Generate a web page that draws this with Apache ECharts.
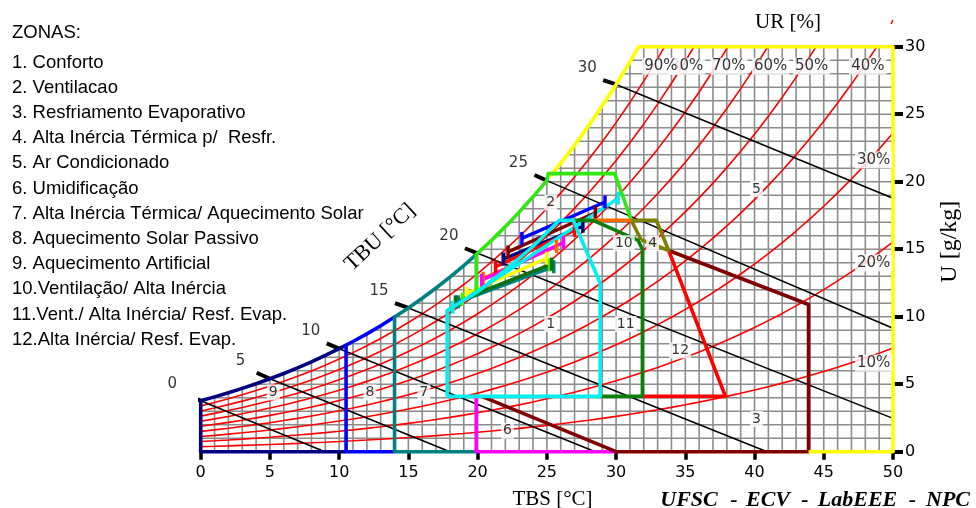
<!DOCTYPE html>
<html><head><meta charset="utf-8">
<script src="https://cdn.jsdelivr.net/npm/echarts@6/dist/echarts.min.js"></script>
<style>html,body{margin:0;padding:0;background:#fff}#c{width:976px;height:508px}</style>
</head><body><div id="c"></div>
<script>
// ---------- reference data ----------
// saturation vapour pressure (kPa) at each temperature (°C)
const satTemps = [0,1,2,3,4,5,6,7,8,9,10,11,12,13,14,15,16,17,18,19,20,21,22,23,24,25,26,27,28,29,30,31,32,33,34,35,36,37,38,39,40,41,42,43,44,45,46,47,48,49,50];
const satPressures = [0.6112,0.6571,0.7060,0.7581,0.8135,0.8725,0.9353,1.0020,1.0728,1.1481,1.2280,1.3127,1.4026,1.4978,1.5987,1.7055,1.8184,1.9380,2.0643,2.1978,2.3388,2.4877,2.6448,2.8104,2.9851,3.1692,3.3631,3.5673,3.7822,4.0083,4.2460,4.4959,4.7585,5.0343,5.3239,5.6278,5.9466,6.2810,6.6315,6.9987,7.3835,7.7863,8.2080,8.6492,9.1107,9.5932,10.0976,10.6246,11.1751,11.7499,12.3499];
const rhLevels = [10,20,30,40,50,60,70,80,90];
const rhLabelText = ['10%','20%','30%','40%','50%','60%','70%','80%','90%'];
const rhLabelT = [48.6,48.6,48.6,48.18,44.12,41.16,38.14,35.1,33.23];
const rhLabelW = [6.57,13.98,21.6,28.56,28.56,28.56,28.56,28.56,28.56];

const tbuValues = [0,5,10,15,20,25,30];
const tbuStartT = [-0.9,4.04,9.1,14.03,19.08,24.1,29.07];
const tbuStartW = [4.13,5.85,8.03,11.0,15.07,20.5,27.53];
const tbuEndT = [8.97,18.0,28.5,40.9,50,50,50];
const tbuEndW = [0,0,0,0,2.47,9.14,18.77];

// monthly min/max lines
const monthTmin = [23.2,22.2,21.85,21.3,20.4,20.3,19.2,18.9,18.6,18.4,18.2];
const monthWmin = [15.8,14.8,14.26,13.7,12.84,12.7,11.73,11.3,11.1,11.1,10.7];
const monthTmax = [29.2,28.5,27.6,27.0,25.7,26.2,25.0,25.2,25.5,25.35,30.15];
const monthWmax = [18.5,17.7,16.7,16.4,15.2,15.5,14.33,13.83,13.7,13.9,18.77];

// zone outlines ([T, U]; {sat:[T1,T2]} = follow saturation curve; {satTop:T1} = saturation up to U=30)
const zone9 = [[10.5,0],[0,0],{sat:[0,10.5]}];
const zone8 = [{sat:[14,10.5]},[10.5,0],[14,0]];
const zone7 = [{sat:[19.9,14]},[14,0],[19.9,0]];
const zone6 = [[19.9,4.1],[19.9,0],[30,0]];
const zone3 = [[20.3,4.1],[30,0],[43.9,0],[43.9,10.9],[33.8,14.9]];
const zone5 = [[25.1,20.6],{satTop:25.3},[50,30],[50,0],[43.9,0]];
const zone2 = [[19.9,11.8],{sat:[19.9,25]},[25.1,20.6],[29.9,20.6],[31.1,17.15]];
const zone12 = [[31.9,4.1],[37.9,4.1],[33.8,14.9]];
const zone4 = [[31.8,15.7],[31.1,17.15],[32.9,17.15],[33.8,14.9],[31.8,15.7]];
const zoneOrange = [[28.3,17.15],[31.1,17.15]];
const zone10 = [[26.9,17.15],[28.3,17.15],[31.6,15.65],[31.9,15.0],[31.9,4.1],[28.85,4.1]];
const zone1 = [[17.8,4.1],[17.8,10.45],[20,11.85],[22,13.45],[24,15.2],[25.9,17.15],[26.9,17.15],[28.85,12.5],[28.85,4.1],[17.8,4.1]];

const zoneLabelNames = ['1','2','3','4','5','6','7','8','9','10','11','12'];
const zoneLabelT = [25.28,25.28,40.14,32.64,40.14,22.15,16.12,12.22,5.24,30.56,30.7,34.63];
const zoneLabelW = [9.46,18.46,2.42,15.44,19.46,1.55,4.39,4.39,4.39,15.44,9.46,7.5];

const legendItems = ['1. Conforto','2. Ventilacao','3. Resfriamento Evaporativo','4. Alta Inércia Térmica p/  Resfr.','5. Ar Condicionado','6. Umidificação','7. Alta Inércia Térmica/ Aquecimento Solar','8. Aquecimento Solar Passivo','9. Aquecimento Artificial','10.Ventilação/ Alta Inércia','11.Vent./ Alta Inércia/ Resf. Evap.','12.Alta Inércia/ Resf. Evap.'];

// ---------- helpers ----------
const P_ATM = 101.325, W_MAX = 30, T_MAX = 50;
function pws(T){
  const i = Math.max(0, Math.min(satTemps.length-2, Math.floor(T)));
  const f = T - satTemps[i];
  return satPressures[i] + (satPressures[i+1]-satPressures[i])*f;
}
function wOf(p){ return 622*p/(P_ATM-p); }
function wsat(T){ return wOf(pws(T)); }
function tOfW(w){ // dry-bulb temperature at which saturation reaches w
  if (w <= wsat(0)) return 0;
  let lo = 0, hi = 50;
  for (let k=0;k<50;k++){ const m=(lo+hi)/2; if (wsat(m) < w) lo = m; else hi = m; }
  return (lo+hi)/2;
}
function satPath(a,b){
  const pts = [[a, wsat(a)]];
  if (b > a) { for (let t=Math.floor(a)+1; t<b; t++) pts.push([t, wsat(t)]); }
  else { for (let t=Math.ceil(a)-1; t>b; t--) pts.push([t, wsat(t)]); }
  pts.push([b, wsat(b)]);
  return pts;
}
function build(path){
  const out = [];
  path.forEach(v => {
    if (v.sat) satPath(v.sat[0], v.sat[1]).forEach(p => out.push(p));
    else if (v.satTop !== undefined) { const tt = tOfW(W_MAX); satPath(v.satTop, tt).forEach(p => out.push(p)); out[out.length-1] = [tt, W_MAX]; }
    else out.push(v);
  });
  return out;
}

const series = [];
// grid lines, only under the saturation curve
const gridSegs = [];
for (let t=0; t<=T_MAX; t++) gridSegs.push([t, 0, t, Math.min(W_MAX, wsat(t))]);
for (let w=1; w<=W_MAX; w++) gridSegs.push([tOfW(w), w, T_MAX, w]);
series.push({type:'custom', z:1, silent:true, clip:false, data:gridSegs, encode:{x:[0,2], y:[1,3]},
  renderItem:(params, api)=>{
    const a = api.coord([api.value(0), api.value(1)]), b = api.coord([api.value(2), api.value(3)]);
    return {type:'line', shape:{x1:a[0], y1:a[1], x2:b[0], y2:b[1]}, style:{stroke:'#8c8c8c', lineWidth:1.6}};
  }});

// RH curves
rhLevels.forEach(rh => {
  series.push({type:'line', z:2, silent:true, showSymbol:false, clip:true,
    data: satTemps.map(T => [T, wOf(rh/100*pws(T))]),
    lineStyle:{color:'#ff0000', width:1.6}});
});
// wet-bulb lines
tbuValues.forEach((k,i) => {
  series.push({type:'line', z:3, silent:true, showSymbol:false, clip:false,
    data:[[k, wsat(k)],[tbuEndT[i], tbuEndW[i]]], lineStyle:{color:'#000', width:1.5}});
  series.push({type:'line', z:3, silent:true, showSymbol:false, clip:false,
    data:[[tbuStartT[i], tbuStartW[i]],[k, wsat(k)]], lineStyle:{color:'#000', width:4}});
});
series.push({type:'scatter', z:6, silent:true, clip:false, symbolSize:0,
  data: tbuValues.map((k,i)=>({value:[tbuStartT[i], tbuStartW[i]], name:String(k)})),
  label:{show:true, position:'inside', offset:[-16,-12], formatter:'{b}', color:'#000', fontSize:15, fontFamily:'DejaVu Sans'}});

// monthly lines
const monthColors = ['#0000ff','#800000','#000080','#ff0000','#ff6a00','#ff00ff','#ffff00','#44ee00','#008080','#107010','#00f0f0'];
monthTmin.forEach((t,i) => {
  series.push({type:'line', z:4, silent:true, clip:false, showSymbol:true, symbol:'rect', symbolSize:[3.5,13],
    data:[[monthTmin[i], monthWmin[i]],[monthTmax[i], monthWmax[i]]],
    itemStyle:{color:monthColors[i]}, lineStyle:{color:monthColors[i], width:3.4}});
});

// zones
const zoneDefs = [
  [zone9,'#000080'],[zone8,'#0000ff'],[zone7,'#008080'],[zone6,'#ff00ff'],[zone3,'#800000'],
  [zone5,'#ffff00'],[zone2,'#2ee810'],[zone12,'#ff0000'],[zone4,'#808000'],[zoneOrange,'#ff6a00'],
  [zone10,'#0a800a'],[zone1,'#00f0f0']];
zoneDefs.forEach(([p,c]) => {
  series.push({type:'line', z:5, silent:true, showSymbol:false, clip:false, data: build(p),
    lineStyle:{color:c, width:3.6, join:'round'}});
});

// zone number labels
series.push({type:'scatter', z:7, silent:true, clip:false, symbolSize:0,
  data: zoneLabelNames.map((n,i)=>({value:[zoneLabelT[i], zoneLabelW[i]], name:n})),
  label:{show:true, position:'inside', formatter:'{b}', color:'#000', fontSize:14, fontFamily:'DejaVu Sans',
    backgroundColor:'#fff', padding:[1,2]}});
// RH labels (80% first so 90% covers it)
series.push({type:'scatter', z:7, silent:true, clip:false, symbolSize:0,
  data: rhLabelText.map((n,i)=>({value:[rhLabelT[i], rhLabelW[i]], name:n})),
  label:{show:true, position:'inside', formatter:'{b}', color:'#000', fontSize:15, fontFamily:'DejaVu Sans',
    backgroundColor:'#fff', padding:[1,2]}});

// ---------- texts ----------
const graphic = [];
function txt(x,y,text,font){
  return {type:'text', x:x, y:y, silent:true, z:10,
    style:{text:text, fill:'#000', font:font, align:'left', verticalAlign:'middle', textAlign:'left', textVerticalAlign:'middle'}};
}
graphic.push(txt(12,33,'ZONAS:','18.5px "Liberation Sans"'));
legendItems.forEach((t,i)=>graphic.push(txt(12,62.5+25.2*i,t,'18.5px "Liberation Sans"')));
function ctxt(x,y,text,font,rot){
  return {type:'text', x:x, y:y, rotation:rot||0, silent:true, z:10,
    style:{text:text, fill:'#000', font:font, align:'center', verticalAlign:'middle', textAlign:'center', textVerticalAlign:'middle'}};
}
graphic.push(ctxt(788,22.5,'UR [%]','21px "Liberation Serif"'));
graphic.push(ctxt(552.5,499,'TBS [°C]','21px "Liberation Serif"'));
graphic.push(ctxt(950,241.7,'U [g/kg]','24px "Liberation Serif"',Math.PI/2));
graphic.push(ctxt(380,237.5,'TBU [°C]','22px "Liberation Serif"',0.75));
const bf = 'italic bold 22px "Liberation Serif"';
[['UFSC',689],['-',734],['ECV',768],['-',805],['LabEEE',857.5],['-',912.5],['NPC',948]].forEach(([t,x])=>graphic.push(ctxt(x,500.5,t,bf)));
graphic.push({type:'line', silent:true, shape:{x1:891,y1:24,x2:893,y2:20}, style:{stroke:'#ff0000', lineWidth:1.5}});

const chart = echarts.init(document.getElementById('c'), null, {renderer:'canvas'});
chart.setOption({
  animation:false,
  backgroundColor:'#ffffff',
  grid:{left:200.7, top:46.7, width:692.3, height:405, show:false, containLabel:false, outerBoundsMode:'none'},
  xAxis:{type:'value', min:0, max:T_MAX, interval:5,
    axisLine:{show:false, onZero:false},
    axisTick:{show:true, length:8, lineStyle:{color:'#000', width:3.5}},
    axisLabel:{show:true, margin:13, color:'#000', fontSize:16, fontFamily:'DejaVu Sans', showMinLabel:true, showMaxLabel:true},
    splitLine:{show:false}, minorSplitLine:{show:false}},
  yAxis:{type:'value', position:'right', min:0, max:W_MAX, interval:5,
    axisLine:{show:false, onZero:false},
    axisTick:{show:true, length:10, lineStyle:{color:'#000', width:4}},
    axisLabel:{show:true, margin:12, color:'#000', fontSize:16, fontFamily:'DejaVu Sans', showMinLabel:true, showMaxLabel:true},
    splitLine:{show:false}, minorSplitLine:{show:false}},
  series: series,
  graphic: graphic
});
</script></body></html>
